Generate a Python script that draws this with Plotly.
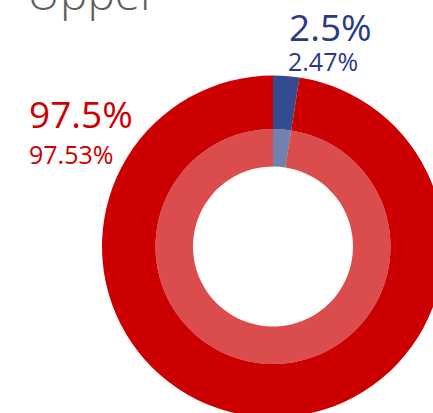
import plotly.graph_objects as go

# ---- data ----
categories = ["Blue", "Red"]
outer_values = [2.47, 97.53]
inner_values = [2.47, 97.53]
title_text = "Upper"

# ---- style ----
W, H = 444, 418
CX, CY = 273, 246.5          # centre in px from top-left
R_OUT, R_MID, R_HOLE = 171, 117.5, 80
solid = ["#344B8F", "#CC0000"]
light = ["rgba(52,75,143,0.7)", "rgba(204,0,0,0.7)"]
text_cols = ["#2B3A87", "#CC0000"]
FONT = "Open Sans, Noto Sans, sans-serif"


def dom(r):
    cy_b = H - CY
    return dict(x=[max(0, (CX - r) / W), min(1, (CX + r) / W)],
                y=[max(0, (cy_b - r) / H), min(1, (cy_b + r) / H)])


fig = go.Figure()
fig.add_trace(go.Pie(labels=categories, values=outer_values, hole=R_MID / R_OUT,
                     domain=dom(R_OUT), sort=False, direction="clockwise", rotation=0,
                     marker=dict(colors=solid, line=dict(width=0)),
                     textinfo="none", hoverinfo="label+percent", showlegend=False))
fig.add_trace(go.Pie(labels=categories, values=inner_values, hole=R_HOLE / R_MID,
                     domain=dom(R_MID), sort=False, direction="clockwise", rotation=0,
                     marker=dict(colors=light, line=dict(width=0)),
                     textinfo="none", hoverinfo="label+percent", showlegend=False))


def px(x, y):
    return x / W, 1 - y / H


anns = []
# title (partly cut off at the top)
x, y = px(25, -7.5)
anns.append(dict(text=title_text, x=x, y=y, xref="paper", yref="paper", xanchor="left",
                 yanchor="middle", showarrow=False,
                 font=dict(family=FONT, size=46, color="#5f5f5f", weight=300)))
# slice labels
label_pos = [((287, 26.5), (286, 61)), ((27, 114), (27, 154))]
for i, v in enumerate(outer_values):
    (bx, by), (sx, sy) = label_pos[i]
    x, y = px(bx, by)
    anns.append(dict(text=f"{v:.1f}%", x=x, y=y, xref="paper", yref="paper", xanchor="left",
                     yanchor="middle", showarrow=False,
                     font=dict(family=FONT, size=37, color=text_cols[i])))
    x, y = px(sx, sy)
    anns.append(dict(text=f"{v:.2f}%", x=x, y=y, xref="paper", yref="paper", xanchor="left",
                     yanchor="middle", showarrow=False,
                     font=dict(family=FONT, size=25, color=text_cols[i])))

fig.update_layout(width=W, height=H, margin=dict(l=0, r=0, t=0, b=0),
                  paper_bgcolor="white", plot_bgcolor="white", annotations=anns)

fig.write_html("out.html", config={"displayModeBar": False},
               post_script="document.body.style.margin='0';document.body.style.overflow='hidden';")
